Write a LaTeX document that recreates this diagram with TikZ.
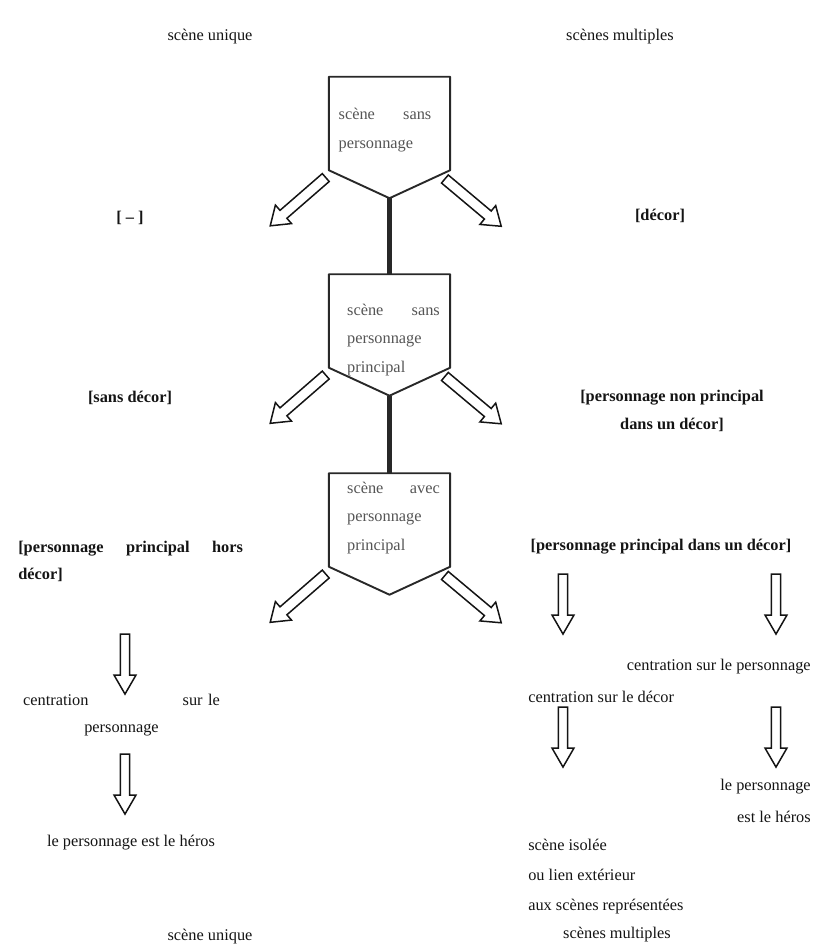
\documentclass[tikz,border=0pt]{standalone}
\usepackage{fontspec}
\setmainfont{Liberation Serif}
\usetikzlibrary{shapes.arrows, calc}
\definecolor{boxline}{RGB}{40, 40, 40}
\definecolor{boxtextgray}{RGB}{85, 85, 85}
\definecolor{textdark}{RGB}{20, 20, 20}

\begin{document}
\begin{tikzpicture}[
    x=0.0258cm, y=-0.0258cm,
    scenebox/.style={rectangle, minimum width=88.7pt, minimum height=68.2pt, inner sep=0pt},
    scenetext/.style={text width=68pt, align=left, font=\fontsize{12}{21}\selectfont, text=boxtextgray, inner sep=0pt},
    outline/.style={draw=boxline, line width=1.4pt, line join=round},
    trunk/.style={draw=boxline, line width=3.6pt},
    fatarrow/.style={single arrow, draw=textdark, fill=white, line width=1.1pt, minimum height=54pt, minimum width=18pt, inner xsep=0pt, inner ysep=3.2pt, single arrow head extend=5pt, single arrow tip angle=70},
    downarrow/.style={fatarrow, minimum height=44pt, minimum width=16pt, inner ysep=2.9pt, single arrow head extend=4.5pt, rotate=-90, single arrow tip angle=60},
    tag/.style={font=\fontsize{12}{20}\selectfont\bfseries, text=textdark, inner sep=0pt},
    note/.style={font=\fontsize{12}{20}\selectfont, text=textdark, inner sep=0pt}
]
\useasboundingbox (0,0) rectangle (814,945);

% Scene boxes
\node[scenebox] (b1) at (389.5,123.5) {};
\node[scenebox] (b2) at (389.5,321) {};
\node[scenebox] (b3) at (389.5,520) {};
\foreach \b in {b1,b2,b3} {
    \coordinate (\b tip) at ($(\b.south)+(0,28)$);
    \draw[outline] (\b.north west) -- (\b.north east) -- (\b.south east) -- (\b tip) -- (\b.south west) -- cycle;
}
\node[scenetext] (b1text) at (385,130) {scène\hfill sans\\personnage};
\node[scenetext] (b2text) at (393.5,340) {scène\hfill sans\\personnage\\principal};
\node[scenetext] (b3text) at (393.5,518) {scène\hfill avec\\personnage\\principal};

% Trunk
\draw[trunk] (b1tip) -- (b2.north);
\draw[trunk] (b2tip) -- (b3.north);

% Branch arrows
\foreach \b in {b1,b2,b3} {
    \node[fatarrow, rotate=221] (\b left) at ($(\b.south west)+(-28,29)$) {};
    \node[fatarrow, rotate=-40] (\b right) at ($(\b.south east)+(20,30)$) {};
}

% Captions
\node[note] (uniquetop) at (210,37) {scène unique};
\node[note] (multitop) at (620,37) {scènes multiples};
\node[note] (uniquebottom) at (210,937) {scène unique};
\node[note] (multibottom) at (617,935) {scènes multiples};

% Branch labels
\node[tag] (nothing) at (130,218) {[ – ]};
\node[tag] (decor) at (660,216) {[décor]};
\node[tag] (sansdecor) at (130,398) {[sans décor]};
\node[tag, align=center] (nonprincipal) at (672,411) {[personnage non principal\\dans un décor]};
\node[tag, text width=165pt, align=left, anchor=west] (horsdecor) at (18,561.5) {[personnage\hfill principal\hfill hors\\décor]};
\node[tag] (dansdecor) at (661,547) {[personnage principal dans un décor]};

% Left column
\node[downarrow] (l1) at (125,660) {};
\node[note, text width=144.5pt, align=center] (lcentration) at (121.5,715) {centration\hfill sur le\\personnage};
\node[downarrow] (l2) at (125,780) {};
\node[note] (lhero) at (131,843) {le personnage est le héros};

% Right columns
\node[downarrow] (r1) at (563,600) {};
\node[downarrow] (r2) at (776,600) {};
\node[note, anchor=east] (rcperso) at (811,667) {centration sur le personnage};
\node[note, anchor=west] (rcdecor) at (528,697) {centration sur le décor};
\node[downarrow] (r3) at (563,733) {};
\node[downarrow] (r4) at (776,733) {};
\node[note, align=right, anchor=east, font=\fontsize{12}{23.5}\selectfont] (rhero) at (811,801) {le personnage\\est le héros};
\node[note, align=left, anchor=west, font=\fontsize{12}{22}\selectfont] (risole) at (528,877) {scène isolée\\ou lien extérieur\\aux scènes représentées};

\end{tikzpicture}
\end{document}
